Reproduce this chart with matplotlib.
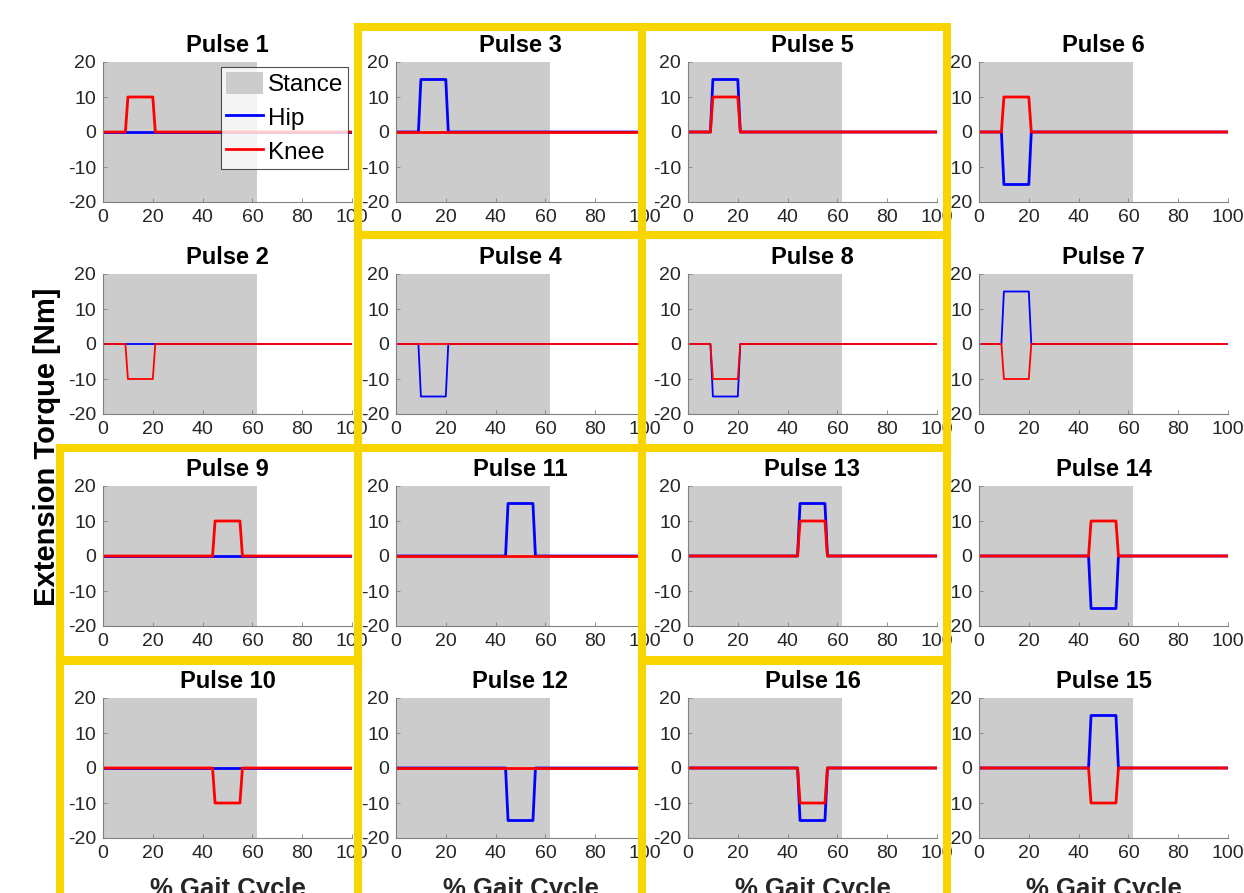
import matplotlib
matplotlib.use("Agg")
import matplotlib.pyplot as plt
from matplotlib.patches import Rectangle

# ---------------- data ----------------
# grid layout of pulse numbers (rows top->bottom, cols left->right)
pulse_grid = [[1, 3, 5, 6],
              [2, 4, 8, 7],
              [9, 11, 13, 14],
              [10, 12, 16, 15]]

# peak hip / knee torque (Nm) for pulses 1..16
hip_amp = {1: 0, 2: 0, 3: 15, 4: -15, 5: 15, 6: -15, 7: 15, 8: -15,
           9: 0, 10: 0, 11: 15, 12: -15, 13: 15, 14: -15, 15: 15, 16: -15}
knee_amp = {1: 10, 2: -10, 3: 0, 4: 0, 5: 10, 6: 10, 7: -10, 8: -10,
            9: 10, 10: -10, 11: 0, 12: 0, 13: 10, 14: 10, 15: -10, 16: -10}

# % gait cycle breakpoints of the pulse profile (early: pulses 1-8, late: 9-16)
early_x = [1, 9, 10, 20, 21, 100]
late_x = [1, 44, 45, 55, 56, 100]
profile = [0, 0, 1, 1, 0, 0]  # shape multiplier at each breakpoint

stance_end = 62
xticks = [0, 20, 40, 60, 80, 100]
yticks = [-20, -10, 0, 10, 20]

# ---------------- figure ----------------
plt.rcParams['font.family'] = ['Liberation Sans', 'DejaVu Sans']
plt.rcParams['axes.unicode_minus'] = False

W, H = 1244, 893
fig = plt.figure(figsize=(W / 100, H / 100), dpi=100)

col_left = [103, 396, 688, 979]
row_top = [62, 274, 486, 698]
ax_w, ax_h = 249, 140

tick_col = '#262626'
for r in range(4):
    for c in range(4):
        p = pulse_grid[r][c]
        ax = fig.add_axes([col_left[c] / W, 1 - (row_top[r] + ax_h) / H, ax_w / W, ax_h / H])
        ax.set_xlim(0, 100)
        ax.set_ylim(-20, 20)
        ax.fill_between([0, stance_end], -20, 20, color='#cccccc', lw=0, zorder=1, label='Stance')
        xs = early_x if p <= 8 else late_x
        lw = 1.3 if r == 1 else 2.0
        ax.plot(xs, [hip_amp[p] * v for v in profile], color='#0000ff', lw=lw, zorder=3, label='Hip')
        ax.plot(xs, [knee_amp[p] * v for v in profile], color='#ff0000', lw=lw, zorder=4, label='Knee')
        ax.set_xticks(xticks)
        ax.set_yticks(yticks)
        ax.tick_params(direction='in', length=3, width=0.6, colors='#808080',
                       labelcolor=tick_col, labelsize=14, pad=5)
        for s in ['top', 'right']:
            ax.spines[s].set_visible(False)
        for s in ['left', 'bottom']:
            ax.spines[s].set_color('#808080')
            ax.spines[s].set_linewidth(0.8)
        ax.set_title(f'Pulse {p}', fontsize=17, fontweight='bold', pad=7)
        if p == 1:
            leg = ax.legend(loc='upper right', bbox_to_anchor=(0.983, 0.965), fontsize=17.5,
                            frameon=True, fancybox=False, edgecolor='#262626',
                            borderpad=0.2, labelspacing=0.38, handlelength=1.5,
                            handleheight=1.05, handletextpad=0.2, borderaxespad=0)
            leg.get_frame().set_linewidth(0.8)
            leg.set_zorder(10)

# axis labels
fig.text(47 / W, 1 - 447 / H, 'Extension Torque [Nm]', rotation=90, ha='center', va='center',
         fontsize=21, fontweight='bold')
for c in range(4):
    fig.text((col_left[c] + ax_w / 2) / W, 1 - 877 / H, '% Gait Cycle', ha='center', va='top',
             fontsize=18.5, fontweight='bold', color=tick_col)

# yellow highlight boxes (pixel coordinates: left, top, right, bottom)
boxes = [(357.5, 27.5, 641.5, 234.5),
         (641.5, 27.5, 946.5, 234.5),
         (357.5, 234.5, 641.5, 447.5),
         (641.5, 234.5, 946.5, 447.5),
         (59.5, 447.5, 357.5, 660.5),
         (641.5, 447.5, 946.5, 660.5),
         (59.5, 660.5, 357.5, 905),
         (641.5, 660.5, 946.5, 905)]
for (l, t, rr, b) in boxes:
    fig.add_artist(Rectangle((l / W, 1 - b / H), (rr - l) / W, (b - t) / H,
                             transform=fig.transFigure, fill=False, edgecolor='#f9d500',
                             lw=5.8, joinstyle='miter', zorder=20))

fig.savefig('out.png', dpi=100)
